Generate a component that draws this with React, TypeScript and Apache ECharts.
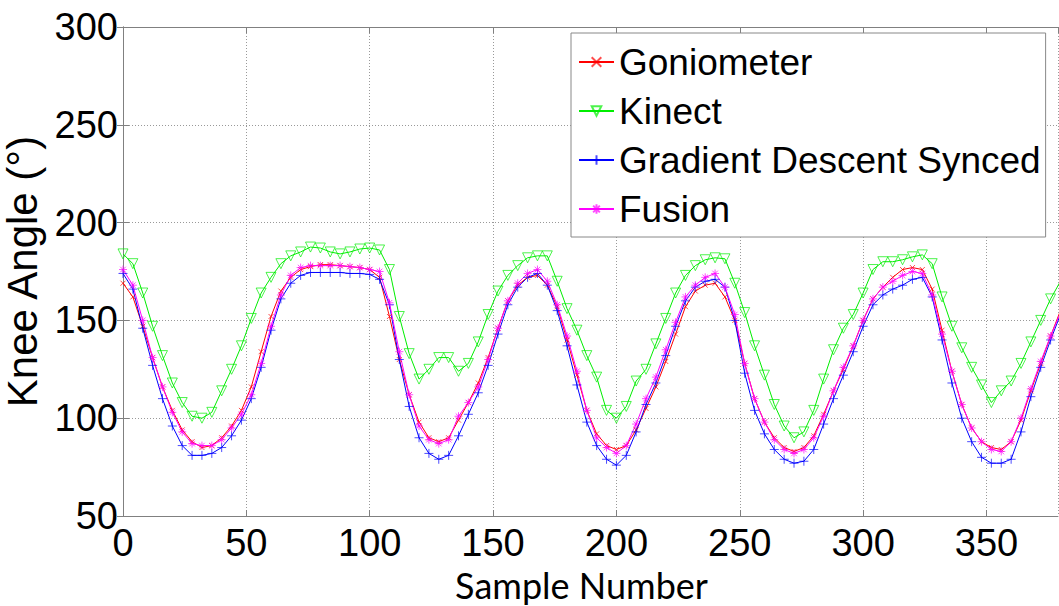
import React, { useEffect, useRef } from "react";
import * as echarts from "echarts";

const samples = [
  0, 4, 8, 12, 16, 20, 24, 28, 32, 36, 40, 44, 48, 52, 56, 60, 64, 68, 72, 76,
  80, 84, 88, 92, 96, 100, 104, 108, 112, 116, 120, 124, 128, 132, 136, 140, 144, 148, 152, 156,
  160, 164, 168, 172, 176, 180, 184, 188, 192, 196, 200, 204, 208, 212, 216, 220, 224, 228, 232, 236,
  240, 244, 248, 252, 256, 260, 264, 268, 272, 276, 280, 284, 288, 292, 296, 300, 304, 308, 312, 316,
  320, 324, 328, 332, 336, 340, 344, 348, 352, 356, 360, 364, 368, 372, 376, 380,
];

const goniometer = [
  169, 162, 147, 131, 116, 104, 94, 88, 85, 86, 90, 96, 104, 116, 134, 152, 165, 172, 176, 177.5,
  178.5, 178.5, 178, 177.5, 177, 176, 172, 152, 130, 112, 98, 90, 88, 90, 99, 108, 118, 131, 146, 160,
  168, 172, 173, 168, 157, 140, 122, 104, 92, 86, 84, 86, 94, 105, 116, 129, 143, 157, 165, 168,
  169, 162, 150, 128, 110, 98, 90, 85, 83, 85, 91, 102, 114, 125, 137, 150, 161, 167, 172, 176,
  177, 176, 166, 145, 124, 107, 95, 88, 85, 84, 88, 99, 114, 128, 142, 155,
];

const kinect = [
  184, 179, 164, 147, 132, 118, 108, 101, 100, 103, 114, 125, 137, 151, 164, 172, 179, 183, 185, 187.5,
  187, 185, 184, 185, 186.5, 187, 186, 176, 152, 133, 120, 125, 131, 131, 124, 128, 139, 153, 165, 173,
  178, 182, 183, 183, 170, 156, 145, 132, 121, 104, 100, 106, 119, 125, 138, 151, 164, 173, 178, 181,
  182, 181.5, 169, 154, 137, 122, 107, 96, 90, 93, 104, 120, 135, 146, 153, 164, 176, 180, 180, 181,
  182.5, 183.5, 179, 162, 147, 136, 126, 117, 108, 114, 119, 128, 139, 150, 161, 170,
];

const gradientDescent = [
  174, 166, 146, 127, 110, 96, 86, 81, 81, 82, 85, 91, 99, 110, 126, 145, 161, 169, 173, 174.5,
  174.5, 174.5, 174.5, 174, 174, 173.5, 171, 158, 130, 106, 90, 82, 79, 81, 91, 102, 113, 127, 143, 158,
  167, 172, 174, 168, 155, 137, 117, 98, 86, 79, 76, 81, 93, 107, 118, 132, 147, 160, 167, 170,
  171, 167, 150, 123, 104, 92, 84, 79, 77, 78, 84, 97, 110, 122, 134, 147, 158, 163, 166, 168,
  171, 172, 162, 140, 118, 100, 88, 80, 77, 77, 79, 93, 111, 126, 140, 153,
];

const fusion = [
  176, 168, 150, 131, 116, 103, 93, 87, 86, 86, 89, 95, 102, 112, 128, 147, 163, 173, 177, 178,
  178, 178, 178, 177.5, 177, 176, 175, 159, 134, 112, 96, 89, 87, 89, 101, 108, 116, 130, 146, 160,
  169, 174, 176, 170, 158, 142, 124, 104, 90, 85, 82, 86, 97, 110, 121, 135, 149, 162, 168, 172,
  174, 167, 153, 128, 110, 98, 89, 84, 82, 84, 90, 101, 114, 126, 137, 150, 161, 167, 170, 173,
  175, 174, 163, 143, 124, 107, 95, 88, 84, 83, 88, 100, 115, 129, 142, 154,
];

const seriesNames = ["Goniometer", "Kinect", "Gradient Descent Synced", "Fusion"];

const pair = (vals: number[]) => samples.map((s, i) => [s, vals[i]]);

export default function App() {
  const ref = useRef<HTMLDivElement>(null);
  useEffect(() => {
    if (!ref.current) return;
    const chart = echarts.init(ref.current, null, { renderer: "svg" });
    const tickFont = {
      fontFamily: "'Liberation Sans', Arial, sans-serif",
      fontSize: 38,
      lineHeight: 26,
      color: "#000",
    };
    const mk = (name: string, vals: number[], color: string, symbol: string, size: number) => ({
      name,
      type: "line",
      data: pair(vals),
      symbol,
      symbolSize: size,
      showAllSymbol: true,
      clip: true,
      lineStyle: { color, width: 1 },
      itemStyle: { color: "rgba(0,0,0,0)", borderColor: color, borderWidth: 1, opacity: 0.7 },
      emphasis: { disabled: true },
    });
    const frameAxis = {
      axisLine: { show: true, lineStyle: { color: "#808080", width: 1 } },
      axisTick: { show: true, inside: true, length: 6, lineStyle: { color: "#808080" } },
    };
    chart.setOption({
      animation: false,
      backgroundColor: "#fff",
      grid: { left: 123, top: 27, width: 935, height: 489, containLabel: false, outerBoundsMode: "none" },
      legend: {
        orient: "vertical",
        left: 571,
        top: 33,
        padding: [9, 5, 8, 7],
        itemWidth: 35,
        itemHeight: 12,
        itemGap: 9,
        backgroundColor: "#fff",
        borderColor: "#888",
        borderWidth: 1,
        borderRadius: 0,
        textStyle: { fontFamily: "'Liberation Sans', Arial, sans-serif", fontSize: 37, color: "#000", lineHeight: 40 },
        data: seriesNames,
      },
      xAxis: [
        {
          type: "value",
          min: 0,
          max: 379,
          interval: 50,
          name: "Sample Number",
          nameLocation: "middle",
          nameGap: 48,
          nameTextStyle: { fontFamily: "Lato, 'Open Sans', sans-serif", fontSize: 36, color: "#000", padding: [0, 18, 0, 0] },
          ...frameAxis,
          axisLabel: { ...tickFont, margin: 14, showMaxLabel: false },
          splitLine: { show: true, lineStyle: { color: "#999", type: [1, 2], width: 1 } },
        },
        {
          type: "value",
          position: "top",
          min: 0,
          max: 379,
          interval: 50,
          ...frameAxis,
          axisLabel: { show: false },
          splitLine: { show: false },
        },
      ],
      yAxis: [
        {
          type: "value",
          min: 50,
          max: 300,
          interval: 50,
          name: "Knee Angle (°)",
          nameLocation: "middle",
          nameGap: 69,
          nameRotate: 90,
          nameTextStyle: { fontFamily: "'Liberation Sans', Arial, sans-serif", fontSize: 42, color: "#000" },
          ...frameAxis,
          axisLabel: { ...tickFont, margin: 5 },
          splitLine: { show: true, lineStyle: { color: "#999", type: [1, 2], width: 1 } },
        },
        {
          type: "value",
          position: "right",
          min: 50,
          max: 300,
          interval: 50,
          ...frameAxis,
          axisLabel: { show: false },
          splitLine: { show: false },
        },
      ],
      series: [
        mk(seriesNames[0], goniometer, "#ff0000", "path://M0,0L10,10M10,0L0,10", 5),
        mk(seriesNames[1], kinect, "#00ee00", "path://M0,0L10,0L5,9Z", 10),
        mk(seriesNames[2], gradientDescent, "#0000ff", "path://M5,0L5,10M0,5L10,5", 9),
        mk(seriesNames[3], fusion, "#ff00ff", "path://M5,0L5,10M0,5L10,5M1.5,1.5L8.5,8.5M8.5,1.5L1.5,8.5", 8),
      ],
    });
    return () => chart.dispose();
  }, []);
  return <div ref={ref} style={{ position: "absolute", left: 0, top: 0, width: 1059, height: 606 }} />;
}
